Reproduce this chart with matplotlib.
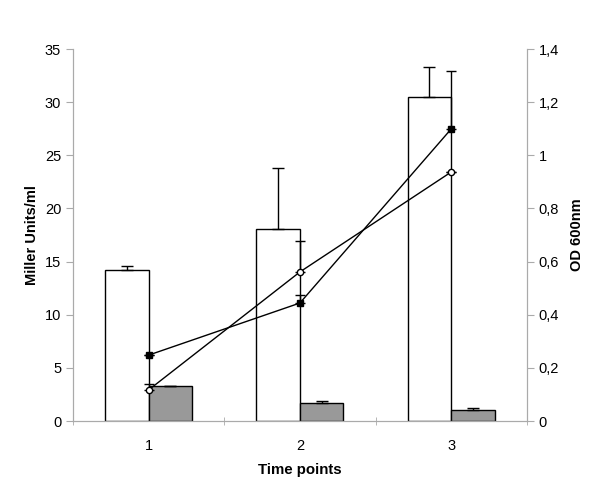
import numpy as np
import matplotlib.pyplot as plt
from matplotlib.ticker import FuncFormatter

plt.rcParams['font.family'] = ['Liberation Sans', 'DejaVu Sans']

# data
time_points = ['1', '2', '3']
miller_white = [14.2, 18.05, 30.5]
miller_white_err = [0.4, 5.75, 2.8]
miller_gray = [3.3, 1.7, 1.05]
miller_gray_err = [0.0, 0.2, 0.15]
od_square = [0.248, 0.444, 1.099]
od_square_err = [0.0, 0.03, 0.218]
od_circle = [0.117, 0.561, 0.937]
od_circle_err = [0.022, 0.116, 0.0]

x = np.arange(len(time_points)) + 1
w = 0.287

fig = plt.figure(figsize=(6, 4.92), dpi=100)
ax = fig.add_axes([0.1217, 0.1443, 0.7563, 0.7561])

ax.bar(x - w / 2, miller_white, w, color='white', edgecolor='black', linewidth=1, zorder=2)
ax.errorbar(x - w / 2, miller_white, yerr=[np.zeros(3), miller_white_err], fmt='none',
            ecolor='black', elinewidth=1, capsize=4.5, capthick=1, zorder=3)
ax.bar(x + w / 2, miller_gray, w, color='#999999', edgecolor='black', linewidth=1, zorder=2)
ax.errorbar(x + w / 2, miller_gray, yerr=[np.zeros(3), miller_gray_err], fmt='none',
            ecolor='black', elinewidth=1, capsize=4.5, capthick=1, zorder=3)

ax.set_xlim(0.5, 3.5)
ax.set_ylim(0, 35)
ax.set_yticks(np.arange(0, 36, 5))
ax.set_xticks(x)
ax.set_xticklabels(time_points)
ax.set_xticks([0.5, 1.5, 2.5, 3.5], minor=True)
ax.tick_params(axis='x', which='major', length=0, pad=13, labelsize=10.5)
ax.tick_params(axis='x', which='minor', length=6, color='#aaaaaa', direction='inout')
ax.tick_params(axis='y', length=5, color='#aaaaaa', labelsize=10.5)
ax.spines['top'].set_visible(False)
for s in ['left', 'bottom', 'right']:
    ax.spines[s].set_color('#aaaaaa')
ax.set_ylabel('Miller Units/ml', fontweight='bold', fontsize=10.5, labelpad=4)
ax.set_xlabel('Time points', fontweight='bold', fontsize=10.8, labelpad=7)

ax2 = ax.twinx()
ax2.errorbar(x, od_square, yerr=[np.zeros(3), od_square_err], color='black', lw=1,
             marker='s', ms=4.5, mfc='black', capsize=3.5, capthick=1, zorder=4)
ax2.errorbar(x, od_circle, yerr=[np.zeros(3), od_circle_err], color='black', lw=1,
             marker='o', ms=4.5, mfc='white', capsize=3.5, capthick=1, zorder=4)
ax2.set_ylim(0, 1.4)
ax2.set_yticks(np.arange(0, 1.41, 0.2))
ax2.yaxis.set_major_formatter(FuncFormatter(lambda v, p: ('%g' % round(v, 1)).replace('.', ',')))
ax2.tick_params(axis='y', length=5, color='#aaaaaa', labelsize=10.5)
ax2.spines['top'].set_visible(False)
for s in ['left', 'bottom', 'right']:
    ax2.spines[s].set_color('#aaaaaa')
ax2.set_ylabel('OD 600nm', fontweight='bold', fontsize=10.5, labelpad=8)

fig.savefig('out.png', dpi=100)
